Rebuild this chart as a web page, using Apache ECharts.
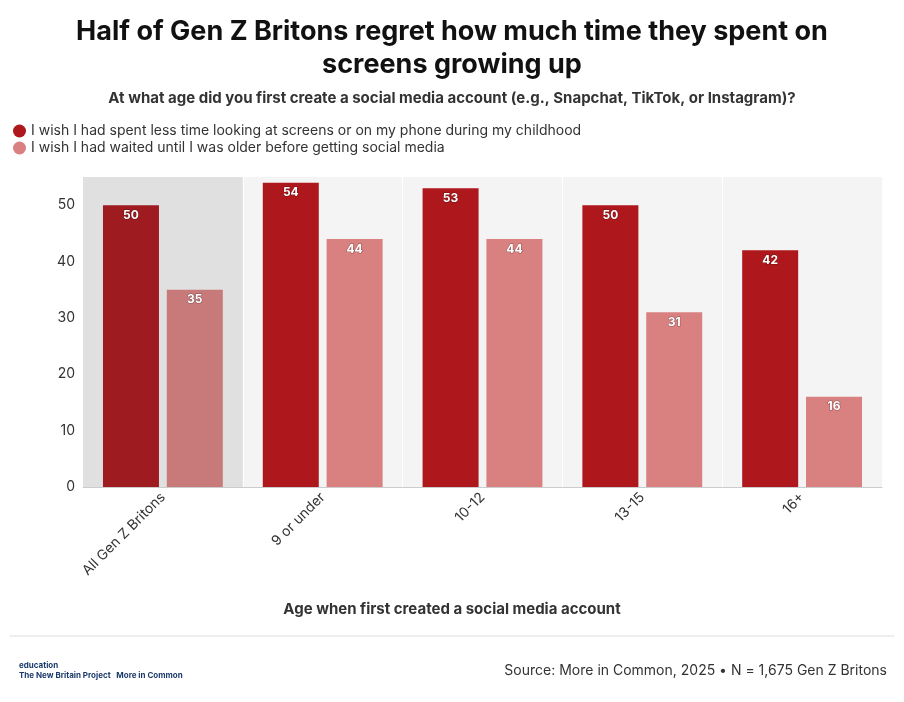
<!DOCTYPE html><html><head><meta charset="utf-8"><script src="https://cdn.jsdelivr.net/npm/echarts@6/dist/echarts.min.js"></script>
<style>body{margin:0}#c{width:904px;height:702px}</style></head><body><div id="c"></div><script>
const categories=['All Gen Z Britons','9 or under','10-12','13-15','16+'];
const lessScreen=[50,54,53,50,42];
const waited=[35,44,44,31,16];
const highlight=[55,null,null,null,null];
const F='Inter, "Noto Sans", sans-serif';
const c=echarts.init(document.getElementById('c'));
const col=(a,b)=>(p)=>p.dataIndex===0?a:b;
c.setOption({
 title:[{text:'Half of Gen Z Britons regret how much time they spent on\nscreens growing up',left:'center',top:10,textStyle:{fontFamily:F,fontSize:27,fontWeight:'bold',color:'#111',lineHeight:33}},
  {text:'At what age did you first create a social media account (e.g., Snapchat, TikTok, or Instagram)?',left:'center',top:86,textStyle:{fontFamily:F,fontSize:15,fontWeight:'bold',color:'#333'}},
  {text:'Age when first created a social media account',left:'center',top:597,textStyle:{fontFamily:F,fontSize:15,fontWeight:'bold',color:'#333'}},
  {text:'Source: More in Common, 2025 • N = 1,675 Gen Z Britons',right:12,top:659,textStyle:{fontFamily:F,fontSize:14,fontWeight:'normal',color:'#333'}},
  {text:'education\nThe New Britain Project   More in Common',left:14,top:656,textStyle:{fontFamily:F,fontSize:8,fontWeight:'bold',color:'#1a3a6b',lineHeight:10}}],
 legend:{orient:'vertical',left:8,top:119,itemGap:3,icon:'circle',itemWidth:13,itemHeight:13,textStyle:{fontFamily:F,fontSize:14,color:'#333'},data:['I wish I had spent less time looking at screens or on my phone during my childhood','I wish I had waited until I was older before getting social media']},
 grid:{left:83,right:22,top:177,bottom:215,show:true,backgroundColor:'#f4f4f4',borderWidth:0},
 xAxis:[{type:'category',data:categories,axisTick:{show:false},axisLine:{lineStyle:{color:'#ccc'}},axisLabel:{rotate:45,fontFamily:F,fontSize:14,color:'#333',interval:0},splitLine:{show:true,lineStyle:{color:'#ffffff'}}},
  {type:'category',data:categories,show:false}],
 yAxis:{type:'value',min:0,max:55,interval:10,axisLabel:{showMaxLabel:false,fontFamily:F,fontSize:14,color:'#333'},splitLine:{show:false}},
 series:[
  {type:'bar',xAxisIndex:1,data:highlight,barWidth:'100%',itemStyle:{color:'#e0e0e0'},silent:true,z:1},
  {name:'I wish I had spent less time looking at screens or on my phone during my childhood',type:'bar',data:lessScreen,barWidth:56,barGap:'14%',z:3,itemStyle:{color:col('#9e1b1f','#ae171b')},label:{show:true,position:'insideTop',color:'#fff',fontWeight:'bold',fontFamily:F,fontSize:12,distance:4,textBorderColor:'#00000055',textBorderWidth:1}},
  {name:'I wish I had waited until I was older before getting social media',type:'bar',data:waited,barWidth:56,z:3,itemStyle:{color:col('#c87a7a','#d98080')},label:{show:true,position:'insideTop',color:'#fff',fontWeight:'bold',fontFamily:F,fontSize:12,distance:4,textBorderColor:'#00000055',textBorderWidth:1}}
 ],
 color:['#ae171b','#d98080'],
 graphic:[{type:'line',shape:{x1:10,y1:636,x2:894,y2:636},style:{stroke:'#ddd',lineWidth:1}}]
});
</script></body></html>
